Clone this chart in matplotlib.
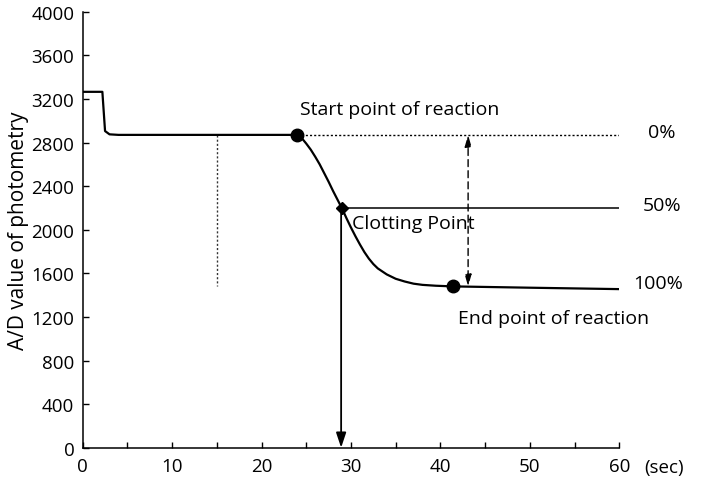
import matplotlib.pyplot as plt
from matplotlib.ticker import MultipleLocator

plt.rcParams['font.family'] = ['Open Sans', 'DejaVu Sans']

# photometry trace
time = [0, 2.2, 2.5, 3.0, 4.0, 24.0, 24.5, 25.0, 25.5, 26.0, 26.5, 27.0, 27.5,
        28.0, 28.5, 29.0, 29.5, 30.0, 30.5, 31.0, 31.5, 32.0, 32.5, 33.0,
        34.0, 35.0, 36.0, 37.0, 38.0, 39.5, 41.4, 50.0, 60.0]
ad = [3265, 3265, 2905, 2875, 2870, 2870, 2840, 2790, 2735, 2670, 2600, 2520,
      2440, 2355, 2275, 2195, 2105, 2020, 1940, 1865, 1795, 1735, 1685, 1645,
      1590, 1550, 1525, 1505, 1494, 1486, 1480, 1468, 1455]

start_pt = (24.0, 2870)
clot_pt = (29.0, 2195)
end_pt = (41.4, 1480)
mark_t = 15.0
level_names = ['0%', '50%', '100%']
level_vals = [2870, 2195, 1480]
level_x = [64.8, 64.8, 64.4]

fig = plt.figure(figsize=(7.02, 4.85), dpi=100)
ax = fig.add_axes([0.1178, 0.0748, 0.7643, 0.899])

ax.plot(time, ad, color='black', lw=1.6, zorder=3)

# reference lines
ax.plot([start_pt[0], 60], [start_pt[1], start_pt[1]], color='black', lw=1.0, ls=(0, (1.5, 1.5)))
ax.plot([clot_pt[0], 60], [clot_pt[1], clot_pt[1]], color='black', lw=1.1)
ax.plot([mark_t, mark_t], [start_pt[1], end_pt[1]], color='#333333', lw=1.0, ls=(0, (1.5, 1.5)))

# clotting time arrow
ax.annotate('', xy=(clot_pt[0] - 0.1, 0), xytext=(clot_pt[0] - 0.1, clot_pt[1]),
            arrowprops=dict(arrowstyle='-|>,head_length=0.9,head_width=0.3', color='black',
                            lw=1.3, shrinkA=0, shrinkB=0), zorder=4)
# 0-100% double arrow
ax.annotate('', xy=(43.1, end_pt[1]), xytext=(43.1, start_pt[1]),
            arrowprops=dict(arrowstyle='<|-|>,head_length=0.7,head_width=0.2', color='black',
                            lw=1.0, ls=(0, (5, 3)), shrinkA=0, shrinkB=0))

ax.plot(*start_pt, 'o', color='black', ms=9, zorder=5)
ax.plot(*end_pt, 'o', color='black', ms=9, zorder=5)
ax.plot(*clot_pt, 'D', color='black', ms=6, zorder=5)

ax.text(24.3, 3110, 'Start point of reaction', fontsize=14, va='center', ha='left')
ax.text(30.1, 2060, 'Clotting Point', fontsize=14, va='center', ha='left')
ax.text(42.0, 1190, 'End point of reaction', fontsize=14, va='center', ha='left')
for name, v, xp in zip(level_names, level_vals, level_x):
    ax.text(xp, v + 30, name, fontsize=14, va='center', ha='center', clip_on=False)

ax.set_xlim(0, 60)
ax.set_ylim(0, 4000)
ax.xaxis.set_major_locator(MultipleLocator(10))
ax.xaxis.set_minor_locator(MultipleLocator(5))
ax.yaxis.set_major_locator(MultipleLocator(400))
ax.tick_params(axis='both', which='both', direction='in', length=4.5, width=1.0, labelsize=13.5)
ax.tick_params(axis='x', pad=7)
ax.tick_params(axis='y', pad=6)
for s in ['top', 'right']:
    ax.spines[s].set_visible(False)
for s in ['left', 'bottom']:
    ax.spines[s].set_linewidth(1.1)

ax.set_ylabel('A/D value of photometry', fontsize=15, labelpad=2)
ax.text(65.0, -175, '(sec)', fontsize=13.5, ha='center', va='center', clip_on=False)

fig.savefig('out.png', dpi=100)
